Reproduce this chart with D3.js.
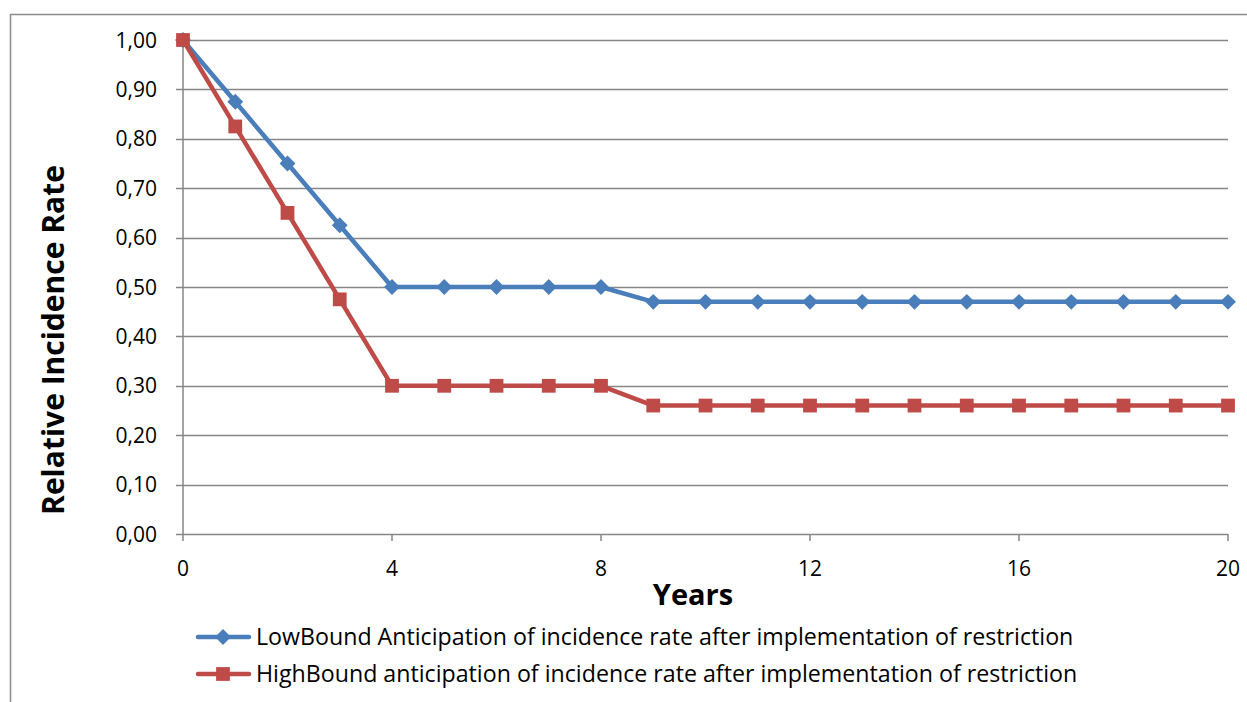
<!DOCTYPE html>
<html>
<head>
<meta charset="utf-8">
<script src="https://cdn.jsdelivr.net/npm/d3@7"></script>
<style>
  body { margin: 0; background: #fff; }
  text { font-family: "Open Sans", sans-serif; fill: #000; }
</style>
</head>
<body>
<svg></svg>
<script>
const years = d3.range(0, 21);
const lowBound = [1.00, 0.875, 0.75, 0.625, 0.50, 0.50, 0.50, 0.50, 0.50,
                  0.47, 0.47, 0.47, 0.47, 0.47, 0.47, 0.47, 0.47, 0.47, 0.47, 0.47, 0.47];
const highBound = [1.00, 0.825, 0.65, 0.475, 0.30, 0.30, 0.30, 0.30, 0.30,
                   0.26, 0.26, 0.26, 0.26, 0.26, 0.26, 0.26, 0.26, 0.26, 0.26, 0.26, 0.26];
const seriesNames = [
  'LowBound Anticipation of incidence rate after implementation of restriction',
  'HighBound anticipation of incidence rate after implementation of restriction'
];
const xTicks = [0, 4, 8, 12, 16, 20];
const yTicks = d3.range(0, 1.01, 0.1);

const WIDTH = 1247,
      HEIGHT = 702,
      MARGINS = { top: 40, right: 19, bottom: 168, left: 183 };

const svg = d3.select('svg')
   .attr('width', WIDTH)
   .attr('height', HEIGHT);

// outer chart frame (left and top edges visible)
svg.append('path')
   .attr('d', `M10.5,${HEIGHT} V14.5 H${WIDTH}`)
   .attr('fill', 'none')
   .attr('stroke', '#8c8c8c')
   .attr('stroke-width', 1.5);

const x = d3.scaleLinear().domain([0, 20]).range([MARGINS.left, WIDTH - MARGINS.right]);
const y = d3.scaleLinear().domain([0, 1]).range([HEIGHT - MARGINS.bottom, MARGINS.top]);

// gridlines
svg.append('g')
   .selectAll('line')
   .data(yTicks)
   .join('line')
   .attr('x1', x(0) - 7)
   .attr('x2', x(20))
   .attr('y1', d => Math.round(y(d)) + 0.5)
   .attr('y2', d => Math.round(y(d)) + 0.5)
   .attr('stroke', '#868686')
   .attr('stroke-width', 1.5);

// y axis line
svg.append('line')
   .attr('x1', x(0)).attr('x2', x(0))
   .attr('y1', y(1)).attr('y2', y(0) + 7)
   .attr('stroke', '#868686')
   .attr('stroke-width', 1.5);

// x ticks
svg.append('g')
   .selectAll('line')
   .data(xTicks.slice(1))
   .join('line')
   .attr('x1', d => x(d)).attr('x2', d => x(d))
   .attr('y1', y(0)).attr('y2', y(0) + 7)
   .attr('stroke', '#868686')
   .attr('stroke-width', 1.5);

svg.append('g')
   .selectAll('text')
   .data(yTicks)
   .join('text')
   .attr('x', x(0) - 26)
   .attr('y', d => y(d))
   .attr('dy', '0.36em')
   .attr('text-anchor', 'end')
   .attr('font-size', 21)
   .text(d => d3.format('.2f')(d).replace('.', ','));

svg.append('g')
   .selectAll('text')
   .data(xTicks)
   .join('text')
   .attr('x', d => x(d))
   .attr('y', y(0) + 42)
   .attr('text-anchor', 'middle')
   .attr('font-size', 21)
   .text(d => d);

svg.append('text')
   .attr('transform', 'translate(64,340) rotate(-90)')
   .attr('text-anchor', 'middle')
   .attr('font-size', 30)
   .attr('font-weight', 'bold')
   .text('Relative Incidence Rate');

svg.append('text')
   .attr('x', 693)
   .attr('y', 605)
   .attr('text-anchor', 'middle')
   .attr('font-size', 29)
   .attr('font-weight', 'bold')
   .text('Years');

const line = d3.line()
   .x((d, i) => x(years[i]))
   .y(d => y(d));

const diamond = d3.symbol().type(d3.symbolDiamond2).size(160);
const square = d3.symbol().type(d3.symbolSquare).size(190);

const series = [
  { values: lowBound, color: '#4a7ebb', marker: diamond },
  { values: highBound, color: '#be4b48', marker: square }
];

series.forEach(s => {
  svg.append('path')
     .datum(s.values)
     .attr('fill', 'none')
     .attr('stroke', s.color)
     .attr('stroke-width', 4.5)
     .attr('stroke-linejoin', 'round')
     .attr('stroke-linecap', 'round')
     .attr('d', line);
  svg.append('g')
     .selectAll('path')
     .data(s.values)
     .join('path')
     .attr('transform', (d, i) => `translate(${x(years[i])},${y(d)})`)
     .attr('fill', s.color)
     .attr('d', s.marker());
});

// legend
const legend = svg.append('g');
series.forEach((s, i) => {
  const ly = 637 + i * 37;
  legend.append('line')
     .attr('x1', 198).attr('x2', 249)
     .attr('y1', ly).attr('y2', ly)
     .attr('stroke', s.color)
     .attr('stroke-width', 4.5)
     .attr('stroke-linecap', 'round');
  legend.append('path')
     .attr('transform', `translate(223,${ly})`)
     .attr('fill', s.color)
     .attr('d', s.marker());
  legend.append('text')
     .attr('x', 256)
     .attr('y', ly)
     .attr('dy', '0.36em')
     .attr('font-size', 23.2)
     .text(seriesNames[i]);
});
</script>
</body>
</html>
